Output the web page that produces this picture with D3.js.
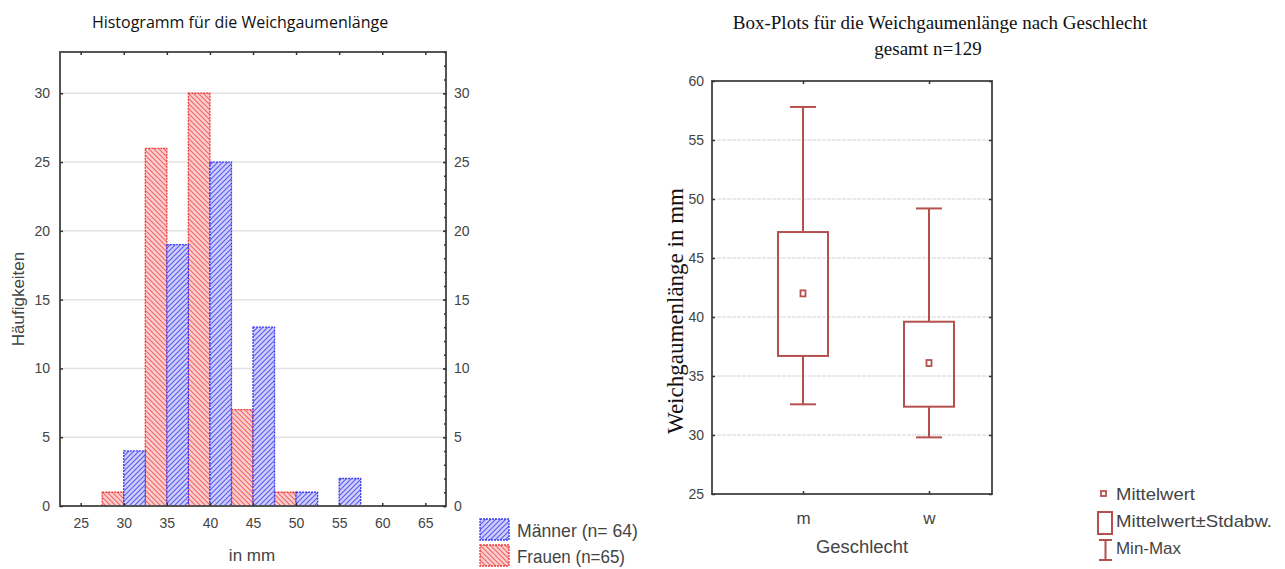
<!DOCTYPE html>
<html>
<head>
<meta charset="utf-8">
<script src="https://cdn.jsdelivr.net/npm/d3@7"></script>
<style>
  body { margin: 0; background: #fff; }
  svg { display: block; }
</style>
</head>
<body>
<script>
// Histogramm: Klassenmitten und Häufigkeiten
const binCenters = [30, 35, 40, 45, 50, 55];
const maenner = [4, 19, 25, 13, 1, 2];
const frauen = [1, 26, 30, 7, 1, 0];
const xTicks = [25, 30, 35, 40, 45, 50, 55, 60, 65];
const yTicks = [0, 5, 10, 15, 20, 25, 30];

// Box-Plots
const groups = ['m', 'w'];
const minVals = [32.6, 29.8];
const sdLow = [36.7, 32.4];
const means = [42.0, 36.1];
const sdHigh = [47.2, 39.6];
const maxVals = [57.8, 49.2];
const boxTicks = [25, 30, 35, 40, 45, 50, 55, 60];

const W = 1285, H = 569;
const svg = d3.select('body').append('svg')
  .attr('width', W).attr('height', H);

const defs = svg.append('defs');
function hatch(id, bg, line, dir) {
  let p = defs.append('pattern').attr('id', id)
    .attr('patternUnits', 'userSpaceOnUse')
    .attr('width', 5).attr('height', 5);
  p.append('rect').attr('width', 5).attr('height', 5).attr('fill', bg);
  let d = dir > 0 ? 'M-1,1 L1,-1 M0,5 L5,0 M4,6 L6,4' : 'M-1,4 L1,6 M0,0 L5,5 M4,-1 L6,1';
  p.append('path').attr('d', d).attr('stroke', line).attr('stroke-width', 1.1);
}
hatch('hBlue', '#cfcffb', '#5a5af0', 1);
hatch('hRed', '#fbcfcf', '#f26464', -1);

const axisCol = '#555';
const tickFont = '"Liberation Sans", Arial, sans-serif';

// ---------- Histogramm ----------
let L = {left: 60, right: 446, top: 52, bottom: 506};
let x = d3.scaleLinear().domain([22.6, 67.4]).range([L.left, L.right]);
let y = d3.scaleLinear().domain([0, 33]).range([L.bottom, L.top]);

svg.append('text')
  .attr('x', 240).attr('y', 28)
  .attr('text-anchor', 'middle')
  .attr('font-family', '"Open Sans", sans-serif')
  .attr('font-size', '16px')
  .attr('fill', '#111')
  .text('Histogramm für die Weichgaumenlänge');

// Gitterlinien
svg.append('g').selectAll('line')
  .data(yTicks.filter(v => v > 0))
  .enter().append('line')
  .attr('x1', L.left).attr('x2', L.right)
  .attr('y1', d => y(d)).attr('y2', d => y(d))
  .attr('stroke', '#e2e2e2').attr('stroke-width', 1.5);

let bw = x(2.5) - x(0);
// Frauen links, Männer rechts in jeder Klasse
svg.append('g').selectAll('rect')
  .data(frauen.map((v, i) => ({c: binCenters[i], v: v})).filter(d => d.v > 0))
  .enter().append('rect')
  .attr('x', d => x(d.c - 2.5))
  .attr('y', d => y(d.v))
  .attr('width', bw)
  .attr('height', d => L.bottom - y(d.v))
  .attr('fill', 'url(#hRed)')
  .attr('stroke', '#f03c3c').attr('stroke-width', 1.3)
  .attr('stroke-dasharray', '2,1');

svg.append('g').selectAll('rect')
  .data(maenner.map((v, i) => ({c: binCenters[i], v: v})).filter(d => d.v > 0))
  .enter().append('rect')
  .attr('x', d => x(d.c))
  .attr('y', d => y(d.v))
  .attr('width', bw)
  .attr('height', d => L.bottom - y(d.v))
  .attr('fill', 'url(#hBlue)')
  .attr('stroke', '#3c3cf0').attr('stroke-width', 1.3)
  .attr('stroke-dasharray', '2,1');

// Rahmen
svg.append('rect')
  .attr('x', L.left).attr('y', L.top)
  .attr('width', L.right - L.left).attr('height', L.bottom - L.top)
  .attr('fill', 'none').attr('stroke', axisCol).attr('stroke-width', 2);

// Achsen
let gx = svg.append('g').attr('transform', `translate(0,${L.bottom})`)
  .call(d3.axisBottom(x).tickValues(xTicks).tickSize(-3).tickPadding(12));
let gxt = svg.append('g').attr('transform', `translate(0,${L.top})`)
  .call(d3.axisTop(x).tickValues(xTicks).tickSize(-3).tickFormat(''));
let gy = svg.append('g').attr('transform', `translate(${L.left},0)`)
  .call(d3.axisLeft(y).tickValues(yTicks).tickSize(-3).tickPadding(10));
let gyr = svg.append('g').attr('transform', `translate(${L.right},0)`)
  .call(d3.axisRight(y).tickValues(yTicks).tickSize(-3).tickPadding(8));
let gyrMinor = svg.append('g').attr('transform', `translate(${L.right},0)`)
  .call(d3.axisRight(y).tickValues(d3.range(0, 34, 1)).tickSize(-2).tickFormat(''));
[gx, gxt, gy, gyr, gyrMinor].forEach(g => {
  g.select('.domain').remove();
  g.selectAll('line').attr('stroke', '#333').attr('stroke-width', 1.5);
  g.selectAll('text').attr('font-family', tickFont).attr('font-size', '14px').attr('fill', '#444');
});

svg.append('text')
  .attr('transform', `translate(24,${(L.top + L.bottom) / 2 + 20}) rotate(-90)`)
  .attr('text-anchor', 'middle')
  .attr('font-family', tickFont)
  .attr('font-size', '17px').attr('fill', '#444')
  .text('Häufigkeiten');

svg.append('text')
  .attr('x', 252).attr('y', 561)
  .attr('text-anchor', 'middle')
  .attr('font-family', tickFont)
  .attr('font-size', '17px').attr('fill', '#444')
  .text('in mm');

// Legende Histogramm
let leg = [
  {label: 'Männer (n= 64)', fill: 'url(#hBlue)', stroke: '#3c3cf0'},
  {label: 'Frauen (n=65)', fill: 'url(#hRed)', stroke: '#f03c3c'}
];
let lg = svg.append('g');
lg.selectAll('rect').data(leg).enter().append('rect')
  .attr('x', 480).attr('y', (d, i) => 519 + i * 26)
  .attr('width', 29).attr('height', 21)
  .attr('fill', d => d.fill).attr('stroke', d => d.stroke)
  .attr('stroke-width', 1.3).attr('stroke-dasharray', '2,1');
lg.selectAll('text').data(leg).enter().append('text')
  .attr('x', 517).attr('y', (d, i) => 537 + i * 26)
  .attr('font-family', tickFont)
  .attr('font-size', '19px').attr('fill', '#444')
  .attr('textLength', (d, i) => i == 0 ? 121 : 108)
  .attr('lengthAdjust', 'spacingAndGlyphs')
  .text(d => d.label);

// ---------- Box-Plots ----------
let R = {left: 712, right: 992, top: 81, bottom: 494};
let bx = d3.scalePoint().domain(groups).range([803, 929]);
let by = d3.scaleLinear().domain([25, 60]).range([R.bottom, R.top]);
const boxCol = '#b5504f';

svg.append('text')
  .attr('x', 940).attr('y', 29)
  .attr('text-anchor', 'middle')
  .attr('font-family', '"Liberation Serif", "Times New Roman", serif')
  .attr('font-size', '19px').attr('fill', '#111')
  .text('Box-Plots für die Weichgaumenlänge nach Geschlecht');
svg.append('text')
  .attr('x', 928).attr('y', 55)
  .attr('text-anchor', 'middle')
  .attr('font-family', '"Liberation Serif", "Times New Roman", serif')
  .attr('font-size', '19px').attr('fill', '#111')
  .text('gesamt n=129');

svg.append('g').selectAll('line')
  .data(boxTicks.filter(v => v > 25 && v < 60))
  .enter().append('line')
  .attr('x1', R.left).attr('x2', R.right)
  .attr('y1', d => by(d)).attr('y2', d => by(d))
  .attr('stroke', '#e2e2e2').attr('stroke-width', 1.5)
  .attr('stroke-dasharray', '4,1');

let boxes = groups.map((g, i) => ({g: g, min: minVals[i], lo: sdLow[i], mean: means[i], hi: sdHigh[i], max: maxVals[i]}));
let bg = svg.append('g').selectAll('g').data(boxes).enter().append('g')
  .attr('stroke', boxCol).attr('stroke-width', 2).attr('fill', 'none');
bg.append('line')
  .attr('x1', d => bx(d.g)).attr('x2', d => bx(d.g))
  .attr('y1', d => by(d.max)).attr('y2', d => by(d.hi));
bg.append('line')
  .attr('x1', d => bx(d.g)).attr('x2', d => bx(d.g))
  .attr('y1', d => by(d.lo)).attr('y2', d => by(d.min));
bg.append('line')
  .attr('x1', d => bx(d.g) - 13).attr('x2', d => bx(d.g) + 13)
  .attr('y1', d => by(d.max)).attr('y2', d => by(d.max));
bg.append('line')
  .attr('x1', d => bx(d.g) - 13).attr('x2', d => bx(d.g) + 13)
  .attr('y1', d => by(d.min)).attr('y2', d => by(d.min));
bg.append('rect')
  .attr('x', d => bx(d.g) - 25).attr('width', 50)
  .attr('y', d => by(d.hi)).attr('height', d => by(d.lo) - by(d.hi));
bg.append('rect')
  .attr('x', d => bx(d.g) - 2.5).attr('width', 5)
  .attr('y', d => by(d.mean) - 3).attr('height', 6)
  .attr('stroke-width', 1.8);

svg.append('rect')
  .attr('x', R.left).attr('y', R.top)
  .attr('width', R.right - R.left).attr('height', R.bottom - R.top)
  .attr('fill', 'none').attr('stroke', axisCol).attr('stroke-width', 2);

let rbx = svg.append('g').attr('transform', `translate(0,${R.bottom})`)
  .call(d3.axisBottom(bx).tickSize(-3).tickPadding(18));
let rbt = svg.append('g').attr('transform', `translate(0,${R.top})`)
  .call(d3.axisTop(bx).tickSize(-3).tickFormat(''));
let rby = svg.append('g').attr('transform', `translate(${R.left},0)`)
  .call(d3.axisLeft(by).tickValues(boxTicks).tickSize(-3).tickPadding(8));
let rbr = svg.append('g').attr('transform', `translate(${R.right},0)`)
  .call(d3.axisRight(by).tickValues(boxTicks).tickSize(-3).tickFormat(''));
[rbx, rbt, rby, rbr].forEach(g => {
  g.select('.domain').remove();
  g.selectAll('line').attr('stroke', '#333').attr('stroke-width', 1.5);
  g.selectAll('text').attr('font-family', tickFont).attr('font-size', '14px').attr('fill', '#444');
});
rbx.selectAll('text').attr('font-size', '17px');

svg.append('text')
  .attr('transform', `translate(683,311) rotate(-90)`)
  .attr('text-anchor', 'middle')
  .attr('font-family', '"Liberation Serif", "Times New Roman", serif')
  .attr('font-size', '23px').attr('fill', '#111')
  .text('Weichgaumenlänge in mm');

svg.append('text')
  .attr('x', 862).attr('y', 553)
  .attr('text-anchor', 'middle')
  .attr('font-family', tickFont)
  .attr('font-size', '18px').attr('fill', '#444')
  .attr('textLength', 92).attr('lengthAdjust', 'spacingAndGlyphs')
  .text('Geschlecht');

// Legende Box-Plots
let bl = svg.append('g').attr('stroke', boxCol).attr('fill', 'none').attr('stroke-width', 1.8);
bl.append('rect').attr('x', 1101).attr('y', 491).attr('width', 5).attr('height', 5);
bl.append('rect').attr('x', 1098).attr('y', 512).attr('width', 14).attr('height', 22).attr('stroke-width', 2);
bl.append('path').attr('d', 'M1099,540 H1112 M1105.5,540 V560 M1099,560 H1112').attr('stroke-width', 2);
let blt = ['Mittelwert', 'Mittelwert±Stdabw.', 'Min-Max'];
let bll = [79, 156, 65];
svg.append('g').selectAll('text').data(blt).enter().append('text')
  .attr('x', 1116).attr('y', (d, i) => 500 + i * 27)
  .attr('font-family', tickFont)
  .attr('font-size', '17px').attr('fill', '#444')
  .attr('textLength', (d, i) => bll[i]).attr('lengthAdjust', 'spacingAndGlyphs')
  .text(d => d);
</script>
</body>
</html>
